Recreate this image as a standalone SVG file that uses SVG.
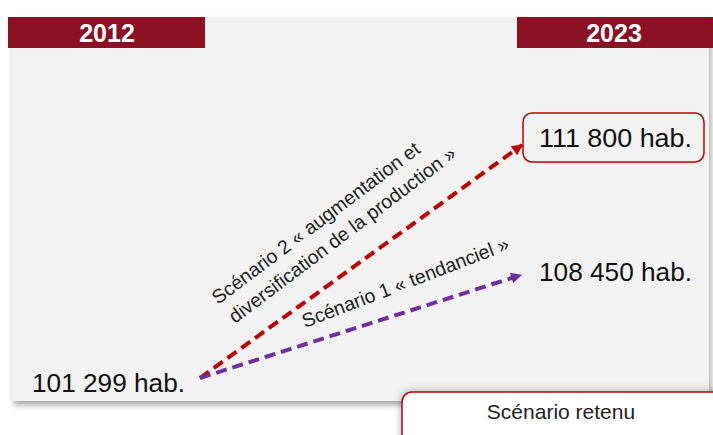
<svg xmlns="http://www.w3.org/2000/svg" width="713" height="435" viewBox="0 0 713 435">
<style>
.hdr{fill:#8b1024}
.hdrt{font-family:"Liberation Sans",Arial,sans-serif;font-weight:bold;font-size:25px;fill:#fff;text-anchor:middle}
.val{font-family:"Liberation Sans",Arial,sans-serif;font-size:26px;fill:#111}
.lbl{font-family:"Liberation Sans",Arial,sans-serif;font-size:19.5px;fill:#222}
.red{stroke:#c00000;stroke-width:4;fill:none;stroke-dasharray:11 6}
.pur{stroke:#7030a0;stroke-width:4;fill:none;stroke-dasharray:11 6}
</style>
<defs>
<filter id="sh" x="-5%" y="-5%" width="115%" height="120%">
<feDropShadow dx="2" dy="4" stdDeviation="3" flood-color="#000" flood-opacity="0.35"/>
</filter>
<filter id="sh2" x="-10%" y="-30%" width="120%" height="160%">
<feDropShadow dx="0" dy="0" stdDeviation="4" flood-color="#000" flood-opacity="0.3"/>
</filter>
<marker id="ar" viewBox="0 0 10 10" refX="9" refY="5" markerWidth="12" markerHeight="11" markerUnits="userSpaceOnUse" orient="auto">
<path d="M0,0 L10,5 L0,10 z" fill="#c00000"/>
</marker>
<marker id="ap" viewBox="0 0 10 10" refX="9" refY="5" markerWidth="12" markerHeight="11" markerUnits="userSpaceOnUse" orient="auto">
<path d="M0,0 L10,5 L0,10 z" fill="#7030a0"/>
</marker>
</defs>
<rect width="713" height="435" fill="#fff"/>
<rect x="12" y="17" width="697" height="384" fill="#f2f2f2" filter="url(#sh)"/>
<g id="header-2012">
<rect class="hdr" x="8" y="17" width="197" height="31"/>
<text class="hdrt" x="107" y="42">2012</text>
</g>
<g id="header-2023">
<rect class="hdr" x="517" y="17" width="196" height="31"/>
<text class="hdrt" x="614" y="42">2023</text>
</g>
<g id="connectors">
<path class="red" d="M200,378 L522,145" marker-end="url(#ar)"/>
<path class="pur" d="M200,378 L521,275" marker-end="url(#ap)"/>
<text class="lbl" transform="translate(218,305) rotate(-37)">Scénario 2 « augmentation et</text>
<text class="lbl" transform="translate(235,324) rotate(-37)">diversification de la production »</text>
<text class="lbl" transform="translate(305,328) rotate(-21)">Scénario 1 « tendanciel »</text>
</g>
<g id="node-101299">
<text class="val" x="32" y="392" textLength="153" lengthAdjust="spacingAndGlyphs">101 299 hab.</text>
</g>
<g id="node-111800">
<rect x="523" y="113" width="181" height="49" rx="9" fill="#f2f2f2" stroke="#c00000" stroke-width="1.5"/>
<text class="val" x="539" y="147" textLength="153" lengthAdjust="spacingAndGlyphs">111 800 hab.</text>
</g>
<g id="node-108450">
<text class="val" x="539" y="281" textLength="153" lengthAdjust="spacingAndGlyphs">108 450 hab.</text>
</g>
<g id="node-retenu">
<rect x="402" y="392" width="330" height="60" rx="10" fill="#fff" stroke="#c00000" stroke-width="1.5" filter="url(#sh2)"/>
<text x="561" y="419" font-family="'Liberation Sans',Arial,sans-serif" font-size="21" fill="#222" text-anchor="middle">Scénario retenu</text>
</g>
</svg>
